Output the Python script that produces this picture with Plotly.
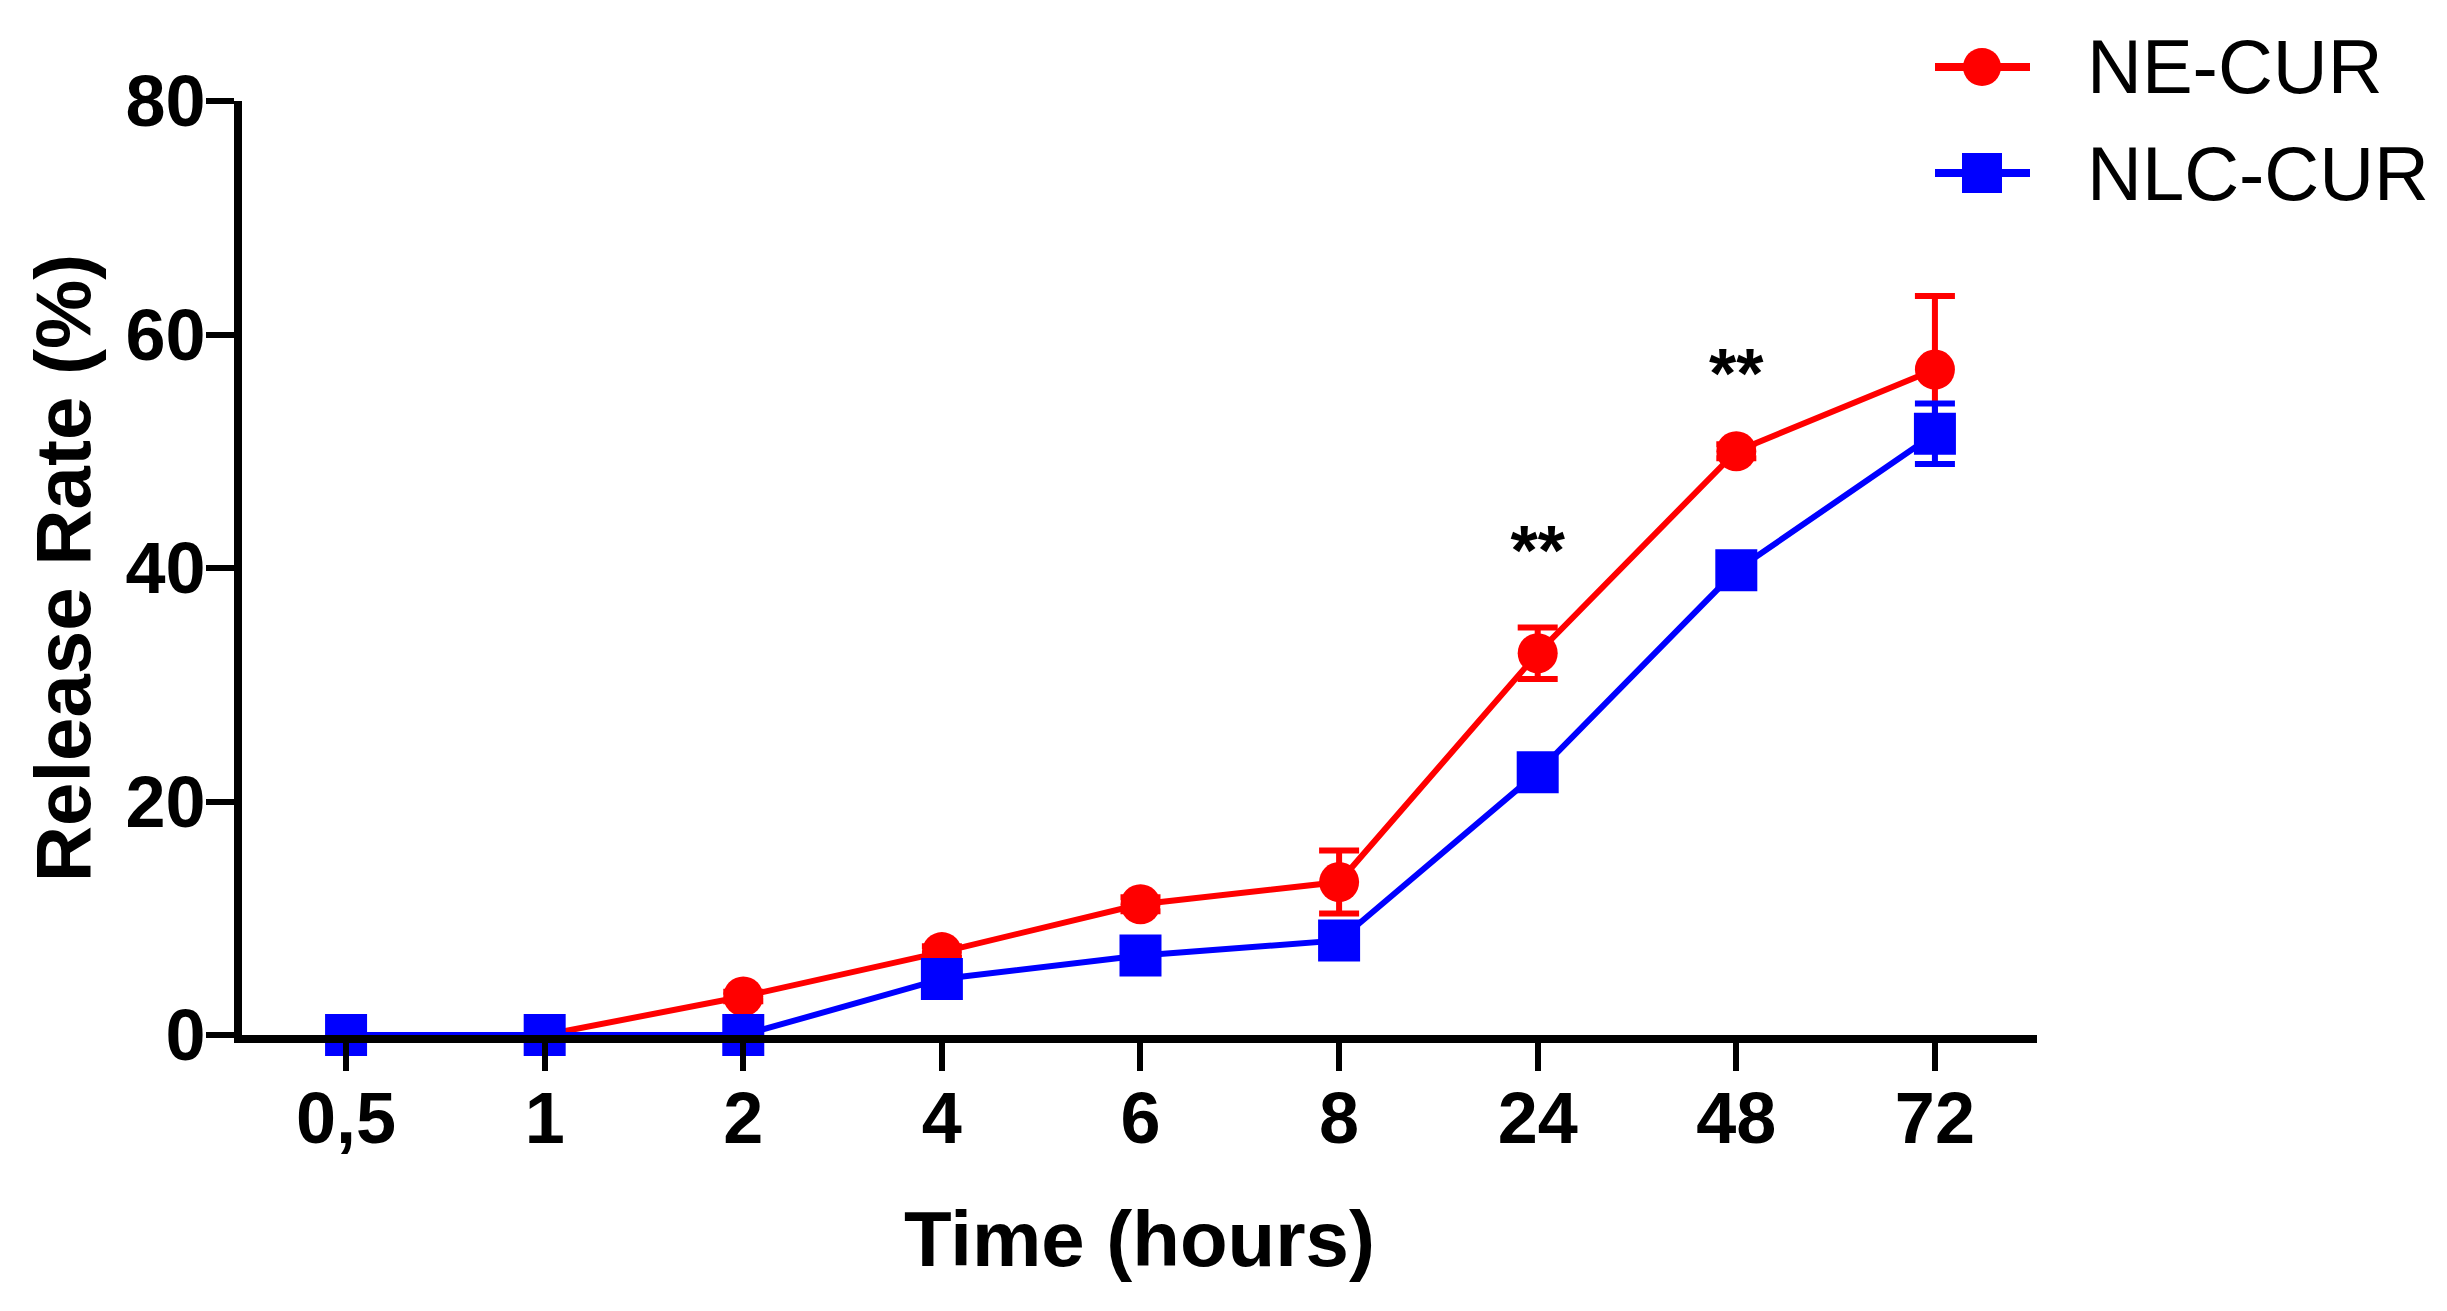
import plotly.graph_objects as go

# ---------------- data ----------------
time_labels = ["0,5", "1", "2", "4", "6", "8", "24", "48", "72"]
ne_cur = [0, 0, 3.3, 7.1, 11.2, 13.1, 32.7, 50.0, 57.0]
ne_cur_sd = [0, 0, 0.4, 0.5, 0.6, 2.7, 2.2, 0.6, 6.3]
nlc_cur = [0, 0, 0, 4.8, 6.8, 8.1, 22.5, 39.8, 51.5]
nlc_cur_sd = [0, 0, 0, 0.6, 0.6, 0.8, 0.8, 0.8, 2.6]
sig_times = ["24", "48"]
sig_values = [40.9, 56.1]
sig_text = ["**", "**"]
y_ticks = [0, 20, 40, 60, 80]

RED = "#ff0000"
BLUE = "#0000ff"
FONT = "Arial, Liberation Sans, sans-serif"

W, H = 2447, 1311
L, R, T, B = 242, 410, 101, 276
PW, PH = W - L - R, H - T - B


def px_x(x):
    return (x - L) / PW


def px_y(y):
    return (H - B - y) / PH


fig = go.Figure()

fig.add_trace(go.Scatter(
    x=time_labels, y=ne_cur, mode="lines+markers", name="NE-CUR",
    line=dict(color=RED, width=6),
    marker=dict(symbol="circle", size=40, color=RED),
    error_y=dict(type="data", array=ne_cur_sd, visible=True,
                 color=RED, thickness=6, width=20),
    cliponaxis=False, showlegend=False,
))
fig.add_trace(go.Scatter(
    x=time_labels, y=nlc_cur, mode="lines+markers", name="NLC-CUR",
    line=dict(color=BLUE, width=6),
    marker=dict(symbol="square", size=42, color=BLUE),
    error_y=dict(type="data", array=nlc_cur_sd, visible=True,
                 color=BLUE, thickness=6, width=20),
    cliponaxis=False, showlegend=False,
))

# significance marks
fig.add_trace(go.Scatter(
    x=sig_times, y=sig_values, mode="text", text=sig_text,
    textposition="middle center",
    textfont=dict(family=FONT, size=70, color="black", weight="bold"),
    cliponaxis=False, showlegend=False, hoverinfo="skip",
))

# ---------------- manual legend ----------------
legend_items = [("NE-CUR", RED, "circle", 67), ("NLC-CUR", BLUE, "square", 173)]
for name, col, sym, yc in legend_items:
    fig.add_shape(type="line", xref="paper", yref="paper",
                  x0=px_x(1935), x1=px_x(2030), y0=px_y(yc), y1=px_y(yc),
                  line=dict(color=col, width=8))
    if sym == "circle":
        fig.add_shape(type="circle", xref="paper", yref="paper",
                      x0=px_x(1982 - 19), x1=px_x(1982 + 19),
                      y0=px_y(yc + 19), y1=px_y(yc - 19),
                      fillcolor=col, line=dict(width=0))
    else:
        fig.add_shape(type="rect", xref="paper", yref="paper",
                      x0=px_x(1982 - 20), x1=px_x(1982 + 20),
                      y0=px_y(yc + 20), y1=px_y(yc - 20),
                      fillcolor=col, line=dict(width=0))
    fig.add_annotation(x=px_x(2085), y=px_y(yc), xref="paper", yref="paper",
                       text=name, showarrow=False, xanchor="left", yanchor="middle",
                       font=dict(family=FONT, size=76, color="black"))

fig.update_layout(
    width=W, height=H,
    margin=dict(l=L, r=R, t=T, b=B, pad=0),
    plot_bgcolor="white", paper_bgcolor="white",
    font=dict(family=FONT, color="black"),
    xaxis=dict(
        type="category", categoryorder="array", categoryarray=time_labels,
        range=[-0.524, 8.514],
        showline=True, linecolor="black", linewidth=8,
        ticks="outside", ticklen=28, tickwidth=6, tickcolor="black",
        ticklabelstandoff=-14,
        showgrid=False, zeroline=False,
        tickfont=dict(family=FONT, size=72, color="black", weight="bold"),
        title=dict(text="<b>Time (hours)</b>",
                   font=dict(family=FONT, size=78, color="black"), standoff=57),
    ),
    yaxis=dict(
        range=[0, 80], tickvals=y_ticks,
        showline=True, linecolor="black", linewidth=8,
        ticks="outside", ticklen=28, tickwidth=6, tickcolor="black",
        ticklabelstandoff=-14,
        showgrid=False, zeroline=False,
        tickfont=dict(family=FONT, size=72, color="black", weight="bold"),
        title=dict(text="<b>Release Rate (%)</b>",
                   font=dict(family=FONT, size=78, color="black"), standoff=12),
    ),
    showlegend=False,
)

fig.write_html("out.html", config={"displayModeBar": False},
               post_script="document.body.style.margin='0';document.body.style.overflow='hidden';")
